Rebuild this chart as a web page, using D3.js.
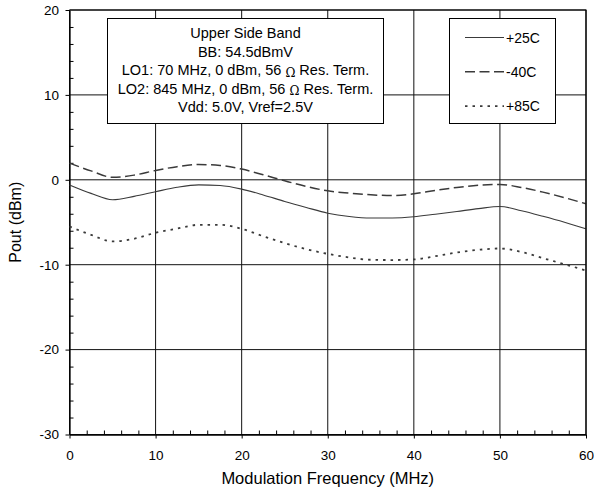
<!DOCTYPE html>
<html>
<head>
<meta charset="utf-8">
<script src="https://cdn.jsdelivr.net/npm/d3@7"></script>
<style>
  body { margin: 0; background: #fff; }
  svg { display: block; font-family: "Liberation Sans", Arial, Helvetica, sans-serif; }
</style>
</head>
<body>
<div id="chart"></div>
<script>
// data
const freq = [0, 2.5, 5, 7.5, 10, 12.5, 15, 17.5, 20, 22.5, 25, 27.5, 30, 32.5, 35, 37.5, 40, 42.5, 45, 47.5, 50, 52.5, 55, 57.5, 60];
const pout25 = [-0.6, -1.6, -2.35, -1.95, -1.4, -0.88, -0.6, -0.68, -1.1, -1.78, -2.55, -3.26, -3.93, -4.32, -4.5, -4.5, -4.36, -4.05, -3.73, -3.4, -3.14, -3.65, -4.3, -5.0, -5.77];
const poutM40 = [1.96, 1.05, 0.3, 0.55, 1.1, 1.55, 1.8, 1.69, 1.26, 0.59, -0.12, -0.78, -1.3, -1.57, -1.77, -1.85, -1.65, -1.25, -0.9, -0.65, -0.55, -0.9, -1.45, -2.1, -2.83];
const pout85 = [-5.5, -6.48, -7.26, -6.95, -6.24, -5.75, -5.3, -5.3, -5.77, -6.65, -7.46, -8.17, -8.72, -9.15, -9.42, -9.45, -9.38, -9.0, -8.56, -8.25, -8.09, -8.5, -9.23, -9.95, -10.68];
const seriesNames = ['+25C', '-40C', '+85C'];
const xTicks = [0, 10, 20, 30, 40, 50, 60];
const yTicks = [-30, -20, -10, 0, 10, 20];
const xMinor = d3.range(0, 61, 2);
const yMinor = d3.range(-30, 21, 2);
const noteLines = ['Upper Side Band', 'BB: 54.5dBmV', 'LO1: 70 MHz, 0 dBm, 56 |Ω| Res. Term.', 'LO2: 845 MHz, 0 dBm, 56 |Ω| Res. Term.', 'Vdd: 5.0V, Vref=2.5V'];

const W = 594, H = 492;
const x0 = 69.5, x1 = 586, y0 = 434.5, y1 = 10;

const svg = d3.select('#chart').append('svg')
  .attr('width', W)
  .attr('height', H);

const x = d3.scaleLinear().domain([0, 60]).range([x0, x1]);
const y = d3.scaleLinear().domain([-30, 20]).range([y0, y1]);

// grid
const grid = svg.append('g').attr('stroke', '#111').attr('stroke-width', 1);
grid.selectAll('.vg').data(xTicks).enter().append('line')
  .attr('x1', d => x(d)).attr('x2', d => x(d))
  .attr('y1', y0).attr('y2', y1);
grid.selectAll('.hg').data(yTicks).enter().append('line')
  .attr('x1', x0).attr('x2', x1)
  .attr('y1', d => y(d)).attr('y2', d => y(d));

// axes: major ticks outside, minor ticks inside
const fmt = d => String(d);
const xAxis = svg.append('g').attr('transform', `translate(0,${y0})`);
xAxis.call(d3.axisBottom(x).tickValues(xMinor.filter(d => d % 10 !== 0)).tickSize(-4).tickFormat(''));
xAxis.call(g => g.select('.domain').remove());
const xMaj = svg.append('g').attr('transform', `translate(0,${y0})`)
  .call(d3.axisBottom(x).tickValues(xTicks).tickSize(4).tickSizeOuter(0).tickPadding(12).tickFormat(fmt));
xMaj.selectAll('text').attr('font-size', 13.5).attr('fill', '#000').attr('font-family', null);

const yAxis = svg.append('g').attr('transform', `translate(${x0},0)`);
yAxis.call(d3.axisLeft(y).tickValues(yMinor.filter(d => d % 10 !== 0)).tickSize(-4).tickFormat(''));
yAxis.call(g => g.select('.domain').remove());
const yMaj = svg.append('g').attr('transform', `translate(${x0},0)`)
  .call(d3.axisLeft(y).tickValues(yTicks).tickSize(4).tickSizeOuter(0).tickPadding(6.5).tickFormat(fmt));
yMaj.selectAll('text').attr('font-size', 13.5).attr('fill', '#000').attr('font-family', null);
svg.selectAll('.tick line').attr('stroke', '#000');
svg.selectAll('.domain').attr('stroke', '#000').attr('stroke-width', 1.3);

// axis titles
svg.append('text')
  .attr('x', (x0 + x1) / 2).attr('y', 484)
  .attr('text-anchor', 'middle').attr('font-size', 16.5)
  .text('Modulation Frequency (MHz)');
svg.append('text')
  .attr('transform', `translate(20.5,${(y0 + y1) / 2}) rotate(-90)`)
  .attr('text-anchor', 'middle').attr('font-size', 16)
  .text('Pout (dBm)');

// curves
const styles = [
  { data: pout25, dash: null, width: 1.1 },
  { data: poutM40, dash: '10,4.5', width: 1.5 },
  { data: pout85, dash: '2.5,5', width: 1.8 }
];
const line = d3.line()
  .x((d, i) => x(freq[i]))
  .y(d => y(d))
  .curve(d3.curveMonotoneX);

svg.selectAll('.curve').data(styles).enter().append('path')
  .attr('class', 'curve')
  .attr('d', d => line(d.data))
  .attr('fill', 'none')
  .attr('stroke', '#3a3a3a')
  .attr('stroke-width', d => d.width)
  .attr('stroke-dasharray', d => d.dash);

// note box
svg.append('rect')
  .attr('x', 107.5).attr('y', 18.5).attr('width', 276).attr('height', 105)
  .attr('fill', '#fff').attr('stroke', '#000').attr('stroke-width', 1);
const note = svg.append('text').attr('text-anchor', 'middle').attr('font-size', 14.5);
noteLines.forEach((s, i) => {
  const t = note.append('tspan').attr('x', 245.5).attr('y', 38 + i * 18.5);
  s.split('|').forEach((part, j) => {
    const p = t.append('tspan').text(part);
    if (j === 1) p.attr('font-size', 12).attr('font-family', '"DejaVu Serif", serif').attr('dy', 1.5);
    if (j === 2) p.attr('dy', -1.5);
  });
});

// legend
svg.append('rect')
  .attr('x', 449.5).attr('y', 18.5).attr('width', 106).attr('height', 105)
  .attr('fill', '#fff').attr('stroke', '#000').attr('stroke-width', 1);
const leg = svg.selectAll('.leg').data(styles).enter().append('g')
  .attr('transform', (d, i) => `translate(0,${37.5 + i * 34.3})`);
leg.append('line')
  .attr('x1', 465).attr('x2', 504)
  .attr('stroke', '#3a3a3a')
  .attr('stroke-width', d => d.width)
  .attr('stroke-dasharray', d => d.dash);
leg.append('text')
  .attr('x', 506).attr('y', 5).attr('font-size', 14)
  .text((d, i) => seriesNames[i]);

// plot frame
svg.append('path')
  .attr('d', `M${x0},${y1}H${x1}V${y0}`)
  .attr('fill', 'none').attr('stroke', '#000').attr('stroke-width', 1.2);
</script>
</body>
</html>
